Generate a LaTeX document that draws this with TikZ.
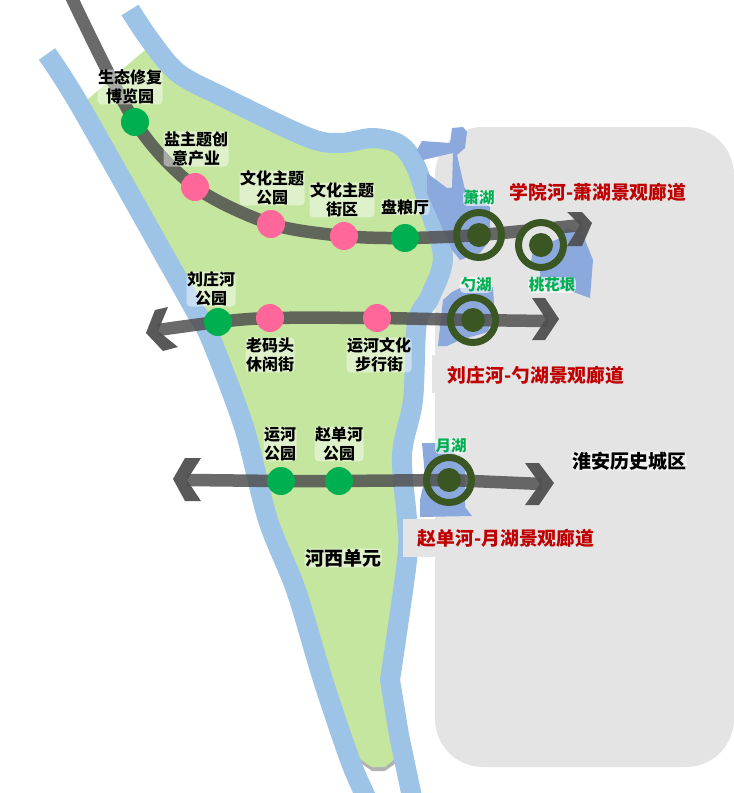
\documentclass[tikz,border=0pt]{standalone}
\usepackage{fontspec}
\usepackage{tikz}
\usetikzlibrary{positioning}
\setmainfont{Noto Sans CJK SC}
\definecolor{riverblue}{HTML}{9DC3E6}
\definecolor{landgreen}{HTML}{C5E69F}
\definecolor{lakeblue}{HTML}{8CA9DD}
\definecolor{cityg}{HTML}{E4E4E4}
\definecolor{roadg}{HTML}{505050}
\definecolor{stopgreen}{HTML}{00B050}
\definecolor{stoppink}{HTML}{FF6699}
\definecolor{ringgreen}{HTML}{3A5623}
\definecolor{titlered}{HTML}{C00000}
\pgfdeclarelayer{base}
\pgfdeclarelayer{road}
\pgfdeclarelayer{inner}
\pgfsetlayers{base,road,inner,main}
\tikzstyle{greenstop}=[circle,fill=stopgreen,minimum size=28pt,inner sep=0pt]
\tikzstyle{pinkstop}=[circle,fill=stoppink,minimum size=28pt,inner sep=0pt]
\tikzstyle{lakering}=[circle,draw=ringgreen,line width=7pt,minimum size=45pt,inner sep=0pt]
\tikzstyle{lakedot}=[circle,fill=ringgreen,minimum size=24pt,inner sep=0pt]
\tikzstyle{halo}=[fill=white,fill opacity=0.45,text opacity=1,rounded corners=4pt,inner sep=0.5pt]
\tikzstyle{lieu}=[halo,align=center,font=\fontsize{16}{18.5}\selectfont\bfseries,text=black]
\tikzstyle{lac}=[halo,fill opacity=0.6,align=center,font=\fontsize{15.5}{18}\selectfont\bfseries,text=stopgreen]
\tikzstyle{titre}=[font=\fontsize{18.8}{20}\selectfont\bfseries,text=titlered,inner sep=0pt]
\tikzstyle{zone}=[halo,font=\fontsize{19}{20}\selectfont\bfseries,text=black]
\tikzstyle{river}=[draw=riverblue,line width=20pt,line join=round]
\tikzstyle{route}=[draw=roadg,line width=12.5pt,opacity=0.85]
\tikzstyle{chevron}=[fill=roadg,opacity=0.95]

\begin{document}
\begin{tikzpicture}[x=1pt,y=-1pt]
\useasboundingbox (0,0) rectangle (734,793);
%stops
\node[greenstop] (eco) at (135,122) {};
\node[pinkstop] (salt) at (195,187) {};
\node[pinkstop] (park) at (271,224) {};
\node[pinkstop] (block) at (344,236) {};
\node[greenstop] (grain) at (405,238) {};
\node[greenstop] (liu) at (218,322) {};
\node[pinkstop] (wharf) at (270,318) {};
\node[pinkstop] (walk) at (377,318) {};
\node[greenstop] (canal) at (281,481) {};
\node[greenstop] (zhao) at (339,481) {};
%lakes
\node[lakering] (xiao) at (479,235) {};
\node[lakering] (tao) at (541,245) {};
\node[lakering] (shao) at (473,320) {};
\node[lakering] (yue) at (449,480) {};
\node[lakedot] at (xiao) {};
\node[lakedot] at (tao) {};
\node[lakedot] at (shao) {};
\node[lakedot] at (yue) {};
%free ends
\coordinate (top) at (68,-10);
\coordinate (endA) at (582,225);
\coordinate (endBl) at (158,330);
\coordinate (endBr) at (548,321);
\coordinate (endCl) at (187,480);
\coordinate (endCr) at (542,484);
%labels
\node[lieu] at (130,87) {生态修复\\博览园};
\node[lieu] at (196,149) {盐主题创\\意产业};
\node[lieu] at (272,188) {文化主题\\公园};
\node[lieu] at (342,200) {文化主题\\街区};
\node[lieu] at (405,207) {盘粮厅};
\node[lieu] at (211,289) {刘庄河\\公园};
\node[lieu] at (270,355) {老码头\\休闲街};
\node[lieu] at (379,355) {运河文化\\步行街};
\node[lieu] at (280,444) {运河\\公园};
\node[lieu] at (339,444) {赵单河\\公园};
\node[zone] at (343,558) {河西单元};
\node[zone] at (629,461) {淮安历史城区};
\node[lac] at (479,198) {萧湖};
\node[lac] at (552,285) {桃花垠};
\node[lac] at (476,285) {勺湖};
\node[lac] at (451,446) {月湖};
\node[titre] at (598,192) {学院河-萧湖景观廊道};
\node[titre] at (536,375) {刘庄河-勺湖景观廊道};
\node[titre] at (506,538) {赵单河-月湖景观廊道};

\begin{pgfonlayer}{base}
%city block
\fill[cityg,rounded corners=48pt] (435,127) rectangle (734,767);
%land
\fill[gray!60] (352,757) -- (372,771) -- (385,771) -- (400,760) -- cycle;
\fill[landgreen] (87,100) -- (145,50) -- (178,73) -- (240,111) -- (307,137) -- (340,142) -- (373,138) -- (400,145)
 -- (416,167) -- (430,210) -- (443,258) -- (430,297) -- (417,323) -- (413,400) -- (400,455) -- (407,520) -- (407,560)
 -- (390,680) -- (396,758) -- (385,767) -- (372,767) -- (357,757) -- (323,680) -- (268,520) -- (195,310) -- (167,260) -- cycle;
%rivers
\draw[river] plot[smooth] coordinates {(47,54) (79,104) (167,260) (195,310) (210,337) (244,427) (268,520) (296,590) (323,680) (350,760) (366,797)};
\draw[river] plot[smooth,tension=0.55] coordinates {(130,10) (150,40) (178,73) (223,97) (307,137) (340,143) (373,138) (400,145) (416,167) (430,210) (443,258) (430,297) (417,323) (413,400) (402,455) (407,520) (407,560) (390,680)} -- (399,735) -- (412,797);
%lakes
\fill[lakeblue] (417,150) -- (422,141) -- (450,143) -- (452,128) -- (463,127) -- (467,132) -- (465,148) -- (457,155)
 -- (465,190) -- (452,188) -- (453,153) -- (423,160) -- cycle;
\fill[lakeblue] (427,173) -- (447,188) -- (463,187) -- (490,207) -- (490,240) -- (480,253) -- (460,260) -- (452,250) -- (427,193) -- cycle;
\fill[lakeblue] (540,255) -- (567,228) -- (583,235) -- (593,260) -- (590,298) -- (540,280) -- cycle;
\fill[lakeblue] (438,346) -- (443,300) -- (452,292) -- (460,288) -- (493,287) -- (494,305) -- (488,332) -- (460,340) -- (447,346) -- cycle;
\fill[lakeblue] (422,443) -- (445,443) -- (465,465) -- (465,507) -- (472,516) -- (420,517) -- (420,500) -- (425,477) -- cycle;
%title patches
\fill[cityg] (432,355) rectangle (436,393);
\fill[cityg] (403,519) rectangle (436,557);
\end{pgfonlayer}

\begin{pgfonlayer}{road}
\draw[route] plot[smooth] coordinates {(top) (eco.center) (salt.center) (park.center) (block.center) (grain.center) (xiao.center) (endA)};
\draw[route] plot[smooth] coordinates {(endBl) (liu.center) (wharf.center) (walk.center) (shao.center) (endBr)};
\draw[route] (endCl) -- (canal.center) -- (zhao.center) -- (yue.center) -- (endCr);
\fill[chevron] (567,212) -- (582,212) -- (592,223) -- (582,246) -- (567,246) -- (580,225) -- cycle;
\fill[chevron] (168,307) -- (155,310) -- (146,333) -- (163,351) -- (178,347) -- (158,331) -- cycle;
\fill[chevron] (532,298) -- (545,298) -- (559,319) -- (545,340) -- (532,340) -- (546,319) -- cycle;
\fill[chevron] (185,458) -- (201,458) -- (187,480) -- (201,501) -- (185,501) -- (173,479) -- cycle;
\fill[chevron] (525,463) -- (539,463) -- (554,483) -- (539,505) -- (525,505) -- (540,484) -- cycle;
\end{pgfonlayer}

\begin{pgfonlayer}{inner}
\fill[cityg] (tao) circle (23);
\fill[lakeblue] (530,268) -- (533,250) -- (560,238) -- (565,255) -- (555,268) -- cycle;
\end{pgfonlayer}
\end{tikzpicture}
\end{document}
